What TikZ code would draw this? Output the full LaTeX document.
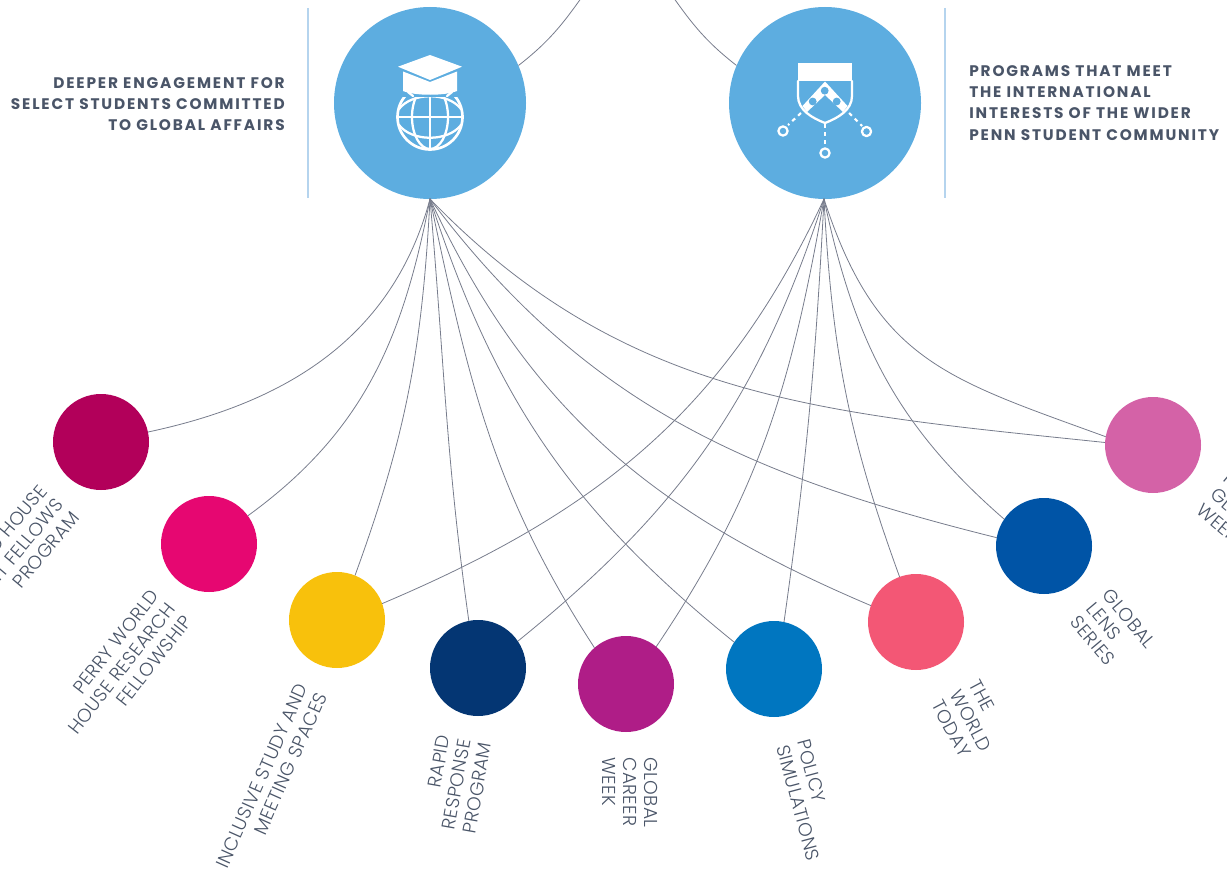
\documentclass[tikz,border=0pt]{standalone}
\usepackage{fontspec}
\setmainfont{Poppins}
\newfontfamily\labelfont[UprightFont={* Light},LetterSpace=2]{Poppins}
\newfontfamily\headfont[LetterSpace=12]{Poppins}
\definecolor{hubblue}{HTML}{5DADE0}
\definecolor{barblue}{HTML}{B5D4EE}
\definecolor{inkgray}{HTML}{4A5568}
\definecolor{wirecol}{HTML}{777C8C}
\tikzset{
  hub/.style={circle,fill=hubblue,minimum size=144pt,inner sep=0pt},
  prog/.style={circle,minimum size=72pt,inner sep=0pt},
  wire/.style={color=wirecol,line width=0.6pt},
  icon/.style={white,line width=1.7pt},
  dots/.style={white,line width=1.6pt,dash pattern=on 3pt off 3pt,line cap=butt},
  tag/.style={font=\labelfont\fontsize{14pt}{15.8pt}\selectfont,text=inkgray,inner sep=0pt},
  head/.style={font=\headfont\bfseries\fontsize{11.5pt}{15.8pt}\selectfont,text=inkgray,inner sep=0pt}
}
\begin{document}
\begin{tikzpicture}[line cap=round,line join=round,x=0.75pt,y=-0.75pt]
\clip (0,0) rectangle (1227,874);
\useasboundingbox (0,0) rectangle (1227,874);
% upper wires
\coordinate (topa) at (584,-6);
\coordinate (topb) at (671,-6);
% hubs
\node[hub] (huba) at (430,103) {};
\node[hub] (hubb) at (825,103) {};
\coordinate (roota) at (430,199);
\coordinate (rootb) at (824,199);
% programs
\node[prog,fill={rgb,255:red,178;green,0;blue,90}] (fellows) at (101,442) {};
\node[prog,fill={rgb,255:red,230;green,7;blue,113}] (perry) at (209,544) {};
\node[prog,fill={rgb,255:red,248;green,193;blue,12}] (spaces) at (337,620) {};
\node[prog,fill={rgb,255:red,4;green,54;blue,115}] (rapid) at (478,668) {};
\node[prog,fill={rgb,255:red,175;green,29;blue,135}] (career) at (626,684) {};
\node[prog,fill={rgb,255:red,0;green,118;blue,192}] (policy) at (774,669) {};
\node[prog,fill={rgb,255:red,243;green,87;blue,117}] (today) at (916,622) {};
\node[prog,fill={rgb,255:red,0;green,84;blue,166}] (lens) at (1044,546) {};
\node[prog,fill={rgb,255:red,212;green,98;blue,167}] (penn) at (1153,445) {};
% bars
\coordinate (bara) at (308,8);
\coordinate (barb) at (308,198);
\coordinate (barc) at (945,8);
\coordinate (bard) at (945,198);
\draw[barblue,line width=2pt,line cap=butt] (bara)--(barb);
\draw[barblue,line width=2pt,line cap=butt] (barc)--(bard);
% wires
\draw[wire] (huba.23) to[out=38,in=-125] (topa);
\draw[wire] (hubb.157) to[out=142,in=-55] (topb);
\draw[wire] (roota) to[out=-105,in=12] (fellows.12);
\draw[wire] (roota) to[out=-101,in=36] (perry.36);
\draw[wire] (roota) to[out=-93,in=70] (spaces.68);
\draw[wire] (roota) to[out=-85,in=98] (rapid.101);
\draw[wire] (roota) to[out=-78,in=123] (career.131);
\draw[wire] (roota) to[out=-72,in=141] (policy.146);
\draw[wire] (roota) to[out=-65,in=157] (today.160);
\draw[wire] (roota) to[out=-53,in=166] (lens.170);
\draw[wire] (roota) to[out=-46,in=174] (penn.177);
\draw[wire] (rootb) to[out=-115,in=23] (spaces.20);
\draw[wire] (rootb) to[out=-108,in=39] (rapid.34);
\draw[wire] (rootb) to[out=-100,in=56] (career.51);
\draw[wire] (rootb) to[out=-93,in=82] (policy.78);
\draw[wire] (rootb) to[out=-87,in=110] (today.110);
\draw[wire] (rootb) to[out=-78,in=139] (lens.146);
\draw[wire] (rootb) to[out=-72,in=160,looseness=1.18] (penn.170);
% cap and globe icon
\draw[icon,line width=2pt] (430,117) circle (32.5);
\draw[icon] (430,117) ellipse (18 and 32);
\draw[icon] (430,84)--(430,150);
\draw[icon] (398,117)--(462,117);
\draw[icon] (399,109) .. controls (412,92) and (448,92) .. (461,109);
\draw[icon] (399,125) .. controls (412,142) and (448,142) .. (461,125);
\fill[hubblue] (399,84) rectangle (461,97);
\draw[icon] (413,96)--(408,92);
\draw[icon] (447,96)--(452,92);
\fill[white] (398,66.7)--(430,55)--(462,66.7)--(430,80)--cycle;
\fill[white] (403,71.5)--(430,82)--(457,71.5)--(457,91) .. controls (445,96) and (415,96) .. (403,91)--cycle;
% shield icon
\fill[white] (798,63) rectangle (852,81);
\draw[icon] (798,81)--(798,96) .. controls (798,110) and (812,118) .. (825,123) .. controls (838,118) and (852,110) .. (852,96)--(852,81);
\fill[white] (825,81.5)--(847.5,106)--(843,112)--(825,95)--(807,112)--(802.5,106)--cycle;
\fill[hubblue] (812.7,101.5) circle (3.9);
\fill[hubblue] (824.7,90.7) circle (3.9);
\fill[hubblue] (836.7,101.5) circle (3.9);
\draw[dots] (801,113)--(788,125);
\draw[dots] (825,124)--(825,146);
\draw[dots] (849,113)--(862,126);
\draw[icon] (783,131) circle (4.6);
\draw[icon] (825,153) circle (4.6);
\draw[icon] (866.5,131.5) circle (4.6);
% headings
\node[head,align=right,anchor=east] (heada) at (285,104) {DEEPER ENGAGEMENT FOR\\SELECT STUDENTS COMMITTED\\TO GLOBAL AFFAIRS};
\node[head,align=left,anchor=west] (headb) at (969,103) {PROGRAMS THAT MEET\\THE INTERNATIONAL\\INTERESTS OF THE WIDER\\PENN STUDENT COMMUNITY};
% labels
\node[tag,align=right,anchor=north east,rotate=50] (tagfellows) at (38,483) {WORLD HOUSE\\STUDENT FELLOWS\\PROGRAM};
\node[tag,align=right,anchor=north east,rotate=52] (tagperry) at (149,588) {PERRY WORLD\\HOUSE RESEARCH\\FELLOWSHIP};
\node[tag,align=right,anchor=north east,rotate=66] (tagspaces) at (296,682) {INCLUSIVE STUDY AND\\MEETING SPACES};
\node[tag,align=right,anchor=north east,rotate=80] (tagrapid) at (437,734) {RAPID\\RESPONSE\\PROGRAM};
\node[tag,align=left,anchor=north west,rotate=-90] (tagcareer) at (658,757) {GLOBAL\\CAREER\\WEEK};
\node[tag,align=left,anchor=north west,rotate=-75] (tagpolicy) at (810,738) {POLICY\\SIMULATIONS};
\node[tag,align=left,anchor=north west,rotate=-62] (tagtoday) at (980,678) {THE\\WORLD\\TODAY};
\node[tag,align=left,anchor=north west,rotate=-50] (taglens) at (1112,587) {GLOBAL\\LENS\\SERIES};
\node[tag,align=left,anchor=north west,rotate=-40] (tagpenn) at (1231,470) {PENN\\GLOBAL\\WEEK};
\end{tikzpicture}
\end{document}
